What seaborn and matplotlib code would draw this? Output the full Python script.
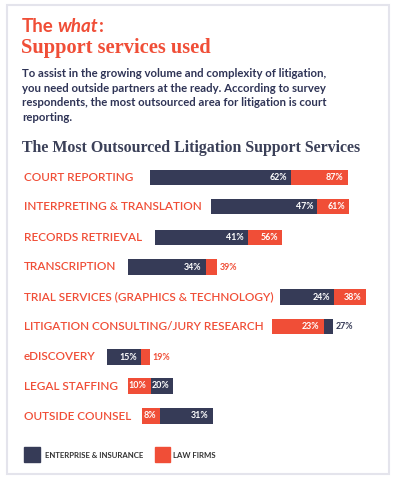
import pandas as pd
import seaborn as sns
import matplotlib.pyplot as plt
from matplotlib.patches import Rectangle

# 데이터
services = ['COURT REPORTING', 'INTERPRETING & TRANSLATION', 'RECORDS RETRIEVAL',
            'TRANSCRIPTION', 'TRIAL SERVICES (GRAPHICS & TECHNOLOGY)',
            'LITIGATION CONSULTING/JURY RESEARCH', 'eDISCOVERY', 'LEGAL STAFFING',
            'OUTSIDE COUNSEL']
enterprise = [62, 47, 41, 34, 24, 27, 15, 20, 31]
law_firms = [87, 61, 56, 39, 38, 23, 19, 10, 8]
groups = ['ENTERPRISE & INSURANCE', 'LAW FIRMS']

NAVY = '#363b57'
ORANGE = '#f04e37'
TEXT_NAVY = '#2f3456'
palette = {groups[0]: NAVY, groups[1]: ORANGE}

df = pd.DataFrame({
    'service': services * 2,
    'group': [groups[0]] * len(services) + [groups[1]] * len(services),
    'pct': enterprise + law_firms,
})

sns.set_theme(style='white')
plt.rcParams['font.family'] = ['Lato', 'DejaVu Sans']

W, H = 396, 480
fig = plt.figure(figsize=(W / 100, H / 100), dpi=100)
renderer = fig.canvas.get_renderer()


def fx(x):
    return x / W


def fy(y):
    return 1 - y / H


def right_edge(t):
    return t.get_window_extent(renderer).x1


# 테두리
fig.patches.append(Rectangle((fx(6.5), fy(474)), fx(382), 469 / H, transform=fig.transFigure,
                             fill=False, edgecolor='#e4e4ec', linewidth=1.5))

# 제목
t1 = fig.text(fx(22), fy(32), 'The', color=ORANGE, fontsize=13.5, fontweight='bold', va='baseline')
t2 = fig.text(fx(right_edge(t1) + 4), fy(32), 'what', color=ORANGE, fontsize=13.5,
              fontweight='bold', style='italic', va='baseline')
fig.text(fx(right_edge(t2) + 0.5), fy(32), ':', color=ORANGE, fontsize=13.5, fontweight='bold',
         va='baseline')
fig.text(fx(21), fy(53), 'Support services used', color=ORANGE, fontsize=14.7, fontweight='bold',
         family='Liberation Serif', va='baseline')

body = ['To assist in the growing volume and complexity of litigation,',
        'you need outside partners at the ready. According to survey',
        'respondents, the most outsourced area for litigation is court',
        'reporting.']
for i, line in enumerate(body):
    fig.text(fx(22), fy(77 + i * 14.7), line, color=TEXT_NAVY, fontsize=8.2,
             fontweight='bold', va='baseline')

fig.text(fx(22), fy(152), 'The Most Outsourced Litigation Support Services', color='#3b4058',
         fontsize=11.4, fontweight='bold', family='Liberation Serif', va='baseline')

# 막대
row_centers = [177.5, 206.5, 237.5, 267, 297, 326.5, 357, 386, 416]
label_gap = [17, 9, 13, 12, 6, 8, 11, 10, 11]
px_per_pct = 2.27
bar_h = 15.5

for i, s in enumerate(services):
    lab = fig.text(fx(24), fy(row_centers[i]), s, color=ORANGE, fontsize=8.5,
                   fontweight='semibold', va='center')
    x0 = right_edge(lab) + label_gap[i]
    ax = fig.add_axes([fx(x0), fy(row_centers[i] + bar_h / 2), fx(100 * px_per_pct), bar_h / H])
    sub = df[df['service'] == s].sort_values('pct', ascending=False)
    sns.barplot(data=sub, x='pct', y='service', hue='group', hue_order=list(sub['group']),
                palette=palette, dodge=False, width=1, legend=False, orient='h', ax=ax,
                saturation=1, edgecolor='none')
    ax.set_xlim(0, 100)
    ax.set_ylim(0.5, -0.5)
    ax.axis('off')

    big, small = sub.iloc[0], sub.iloc[1]
    ax.annotate(f"{small['pct']}%", (small['pct'], 0), xytext=(-3, 0), textcoords='offset points',
                ha='right', va='center', color='white', fontsize=6.4, fontweight='bold')
    if (big['pct'] - small['pct']) * px_per_pct >= 18:
        ax.annotate(f"{big['pct']}%", (big['pct'], 0), xytext=(-3, 0), textcoords='offset points',
                    ha='right', va='center', color='white', fontsize=6.4, fontweight='bold')
    else:
        ax.annotate(f"{big['pct']}%", (big['pct'], 0), xytext=(2, 0), textcoords='offset points',
                    ha='left', va='center', color=palette[big['group']], fontsize=6.4,
                    fontweight='bold', annotation_clip=False)

# 범례
fig.patches.append(Rectangle((fx(24), fy(462)), fx(15.5), 15 / H, transform=fig.transFigure,
                             color=NAVY))
fig.text(fx(45), fy(455), groups[0], color='#333333', fontsize=5.6, fontweight='bold', va='center')
fig.patches.append(Rectangle((fx(155), fy(462)), fx(14.5), 15 / H, transform=fig.transFigure,
                             color=ORANGE))
fig.text(fx(173), fy(455), groups[1], color='#333333', fontsize=5.6, fontweight='bold', va='center')

fig.savefig('out.png', dpi=100)
